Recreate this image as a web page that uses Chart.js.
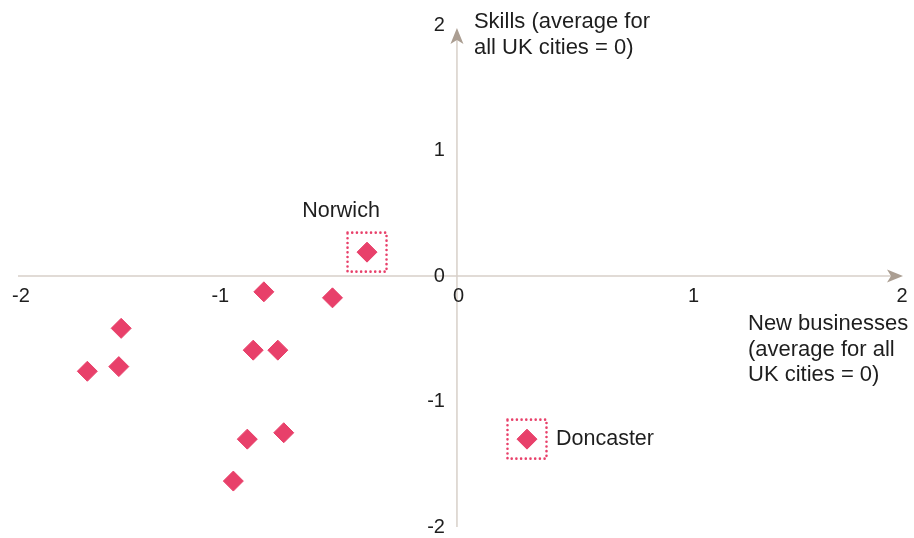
<!DOCTYPE html>
<html><head><meta charset="utf-8">
<script src="https://cdn.jsdelivr.net/npm/chart.js@4.4.1/dist/chart.umd.min.js"></script>
<style>html,body{margin:0;padding:0;background:#fff;overflow:hidden}canvas{display:block}</style>
</head><body><canvas id="c" width="914" height="538" style="width:914px;height:538px"></canvas>
<script>
// New businesses (x) and Skills (y), relative to UK city average = 0
const cityNames    = ['Norwich', 'Doncaster', '', '', '', '', '', '', '', '', '', ''];
const newBusinesses = [-0.38, 0.296, -1.419, -1.562, -1.429, -0.816, -0.526, -0.861, -0.757, -0.886, -0.732, -0.945];
const skills        = [0.19, -1.30, -0.417, -0.759, -0.722, -0.126, -0.174, -0.591, -0.591, -1.30, -1.249, -1.634];
const highlighted   = [true, true, false, false, false, false, false, false, false, false, false, false];
const xTickValues = [-2, -1, 0, 1, 2];
const xTickLabels = ['-2', '-1', '0', '1', '2'];
const yTickValues = [2, 1, 0, -1, -2];
const yTickLabels = ['2', '1', '0', '-1', '-2'];
const xAxisTitle = ['New businesses', '(average for all', 'UK cities = 0)'];
const yAxisTitle = ['Skills (average for', 'all UK cities = 0)'];

const PINK = '#e8406a';
const AXIS = '#d8d0c9';
const ARROW = '#ab9e92';
const TEXT = '#1e1e1e';
const FONT = '"Liberation Sans", Arial, sans-serif';

function arrow(ctx, x, y, ang) {
  ctx.save();
  ctx.translate(x, y);
  ctx.rotate(ang);
  ctx.beginPath();
  ctx.moveTo(0, 0);
  ctx.lineTo(-16, -6.5);
  ctx.lineTo(-12, 0);
  ctx.lineTo(-16, 6.5);
  ctx.closePath();
  ctx.fillStyle = ARROW;
  ctx.fill();
  ctx.restore();
}

const axesPlugin = {
  id: 'crossAxes',
  beforeDatasetsDraw(chart) {
    const {ctx, chartArea: a, scales: {x, y}} = chart;
    const x0 = x.getPixelForValue(0), y0 = y.getPixelForValue(0);
    ctx.save();
    ctx.strokeStyle = AXIS;
    ctx.lineWidth = 1.5;
    ctx.beginPath();
    ctx.moveTo(a.left, y0); ctx.lineTo(a.right - 12, y0);
    ctx.moveTo(x0, a.bottom); ctx.lineTo(x0, a.top + 15);
    ctx.stroke();
    arrow(ctx, a.right, y0, 0);
    arrow(ctx, x0, a.top + 3, -Math.PI / 2);

    ctx.fillStyle = TEXT;
    ctx.font = '20px ' + FONT;
    ctx.textBaseline = 'middle';
    ctx.textAlign = 'center';
    xTickValues.forEach((v, i) => {
      let px = x.getPixelForValue(v);
      px = Math.min(Math.max(px, a.left + 3), a.right - 1);
      if (v === 0) px += 1.5;
      ctx.fillText(xTickLabels[i], px, y0 + 20);
    });
    ctx.textAlign = 'right';
    yTickValues.forEach((v, i) => {
      let py = y.getPixelForValue(v);
      py = Math.min(Math.max(py, a.top - 3), a.bottom);
      ctx.fillText(yTickLabels[i], x0 - 12, py);
    });
    ctx.font = '22px ' + FONT;
    ctx.textAlign = 'left';
    yAxisTitle.forEach((t, i) => ctx.fillText(t, x0 + 17, a.top - 3 + i * 26));
    xAxisTitle.forEach((t, i) => ctx.fillText(t, 748, y0 + 48 + i * 25.5));
    ctx.restore();
  },
  afterDatasetsDraw(chart) {
    const {ctx, scales: {x, y}} = chart;
    ctx.save();
    newBusinesses.forEach((v, i) => {
      if (!highlighted[i]) return;
      const px = x.getPixelForValue(v), py = y.getPixelForValue(skills[i]);
      ctx.strokeStyle = PINK;
      ctx.lineWidth = 2.6;
      ctx.lineCap = 'round';
      ctx.setLineDash([0, 4.7]);
      ctx.strokeRect(px - 19.5, py - 19.5, 39, 39);
      ctx.setLineDash([]);
      ctx.fillStyle = TEXT;
      ctx.font = '21.5px ' + FONT;
      ctx.textBaseline = 'middle';
      if (i === 0) {
        ctx.textAlign = 'center';
        ctx.fillText(cityNames[i], px - 26, py - 41);
      } else {
        ctx.textAlign = 'left';
        ctx.fillText(cityNames[i], px + 29, py);
      }
    });
    ctx.restore();
  }
};

new Chart(document.getElementById('c'), {
  type: 'scatter',
  data: {
    datasets: [{
      data: newBusinesses.map((v, i) => ({x: v, y: skills[i]})),
      pointStyle: 'rectRot',
      pointRadius: 10,
      pointHoverRadius: 10,
      backgroundColor: PINK,
      borderColor: PINK,
      borderWidth: 1
    }]
  },
  options: {
    responsive: false,
    devicePixelRatio: 1,
    animation: false,
    layout: {padding: {left: 18, right: 6, top: 25, bottom: 7}},
    plugins: {legend: {display: false}, tooltip: {enabled: false}},
    scales: {
      x: {type: 'linear', display: false, min: -1.855, max: 1.885},
      y: {type: 'linear', display: false, min: -2, max: 2}
    }
  },
  plugins: [axesPlugin]
});
</script>
</body></html>
